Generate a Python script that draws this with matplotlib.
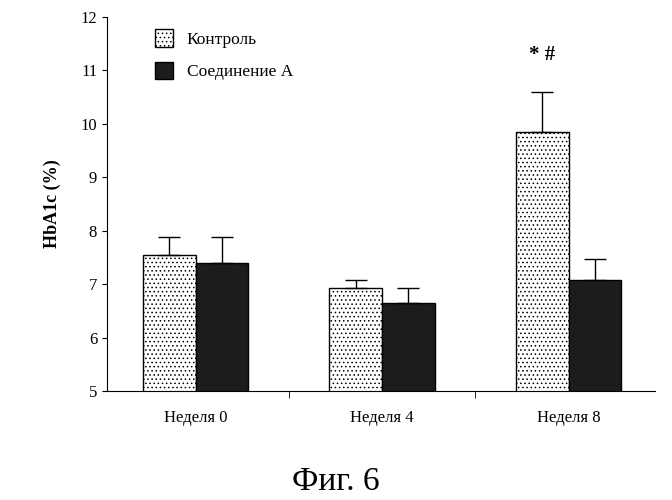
import matplotlib
matplotlib.use("Agg")
import matplotlib.pyplot as plt
import numpy as np

categories = ["Неделя 0", "Неделя 4", "Неделя 8"]
control = [7.55, 6.93, 9.85]
control_err = [0.33, 0.15, 0.75]
compound = [7.4, 6.65, 7.08]
compound_err = [0.48, 0.28, 0.39]

plt.rcParams["font.family"] = "Liberation Serif"
plt.rcParams["hatch.color"] = "#777777"
plt.rcParams["hatch.linewidth"] = 0.6

fig = plt.figure(figsize=(6.72, 5.0), dpi=100)
ax = fig.add_axes([0.159, 0.218, 0.816, 0.748])
x = np.arange(len(categories))
w = 0.283
ax.bar(x - w/2, control, w, color="white", edgecolor="black", hatch="....", linewidth=1, label="Контроль")
ax.bar(x + w/2, compound, w, color="#1c1c1c", edgecolor="black", linewidth=1, label="Соединение А")
ax.errorbar(x - w/2, control, yerr=[np.zeros(3), control_err], fmt="none", ecolor="black", capsize=8, elinewidth=1)
ax.errorbar(x + w/2, compound, yerr=[np.zeros(3), compound_err], fmt="none", ecolor="black", capsize=8, elinewidth=1)
ax.text(x[2] - w/2, 11.2, "* #", ha="center", fontsize=15, fontweight="bold")

ax.set_ylim(5, 12)
ax.set_xlim(-0.476, 2.465)
ax.set_yticks(range(5, 13))
ax.tick_params(axis="y", labelsize=12, direction="out")
ax.set_xticks(x)
ax.set_xticklabels(categories, fontsize=12)
ax.tick_params(axis="x", length=0, pad=14)
ax.set_xticks([0.5, 1.5], minor=True)
ax.tick_params(axis="x", which="minor", length=5)
ax.spines["top"].set_visible(False)
ax.spines["right"].set_visible(False)
ax.set_ylabel("HbA1c (%)", fontsize=13, fontweight="bold", labelpad=14)
ax.legend(loc="upper left", bbox_to_anchor=(0.06, 1.01), frameon=False, fontsize=12.5, handlelength=1, handleheight=1.2, labelspacing=0.8)

fig.text(0.5, 0.02, "Фиг. 6", ha="center", fontsize=24)
fig.savefig("out.png", dpi=100)
